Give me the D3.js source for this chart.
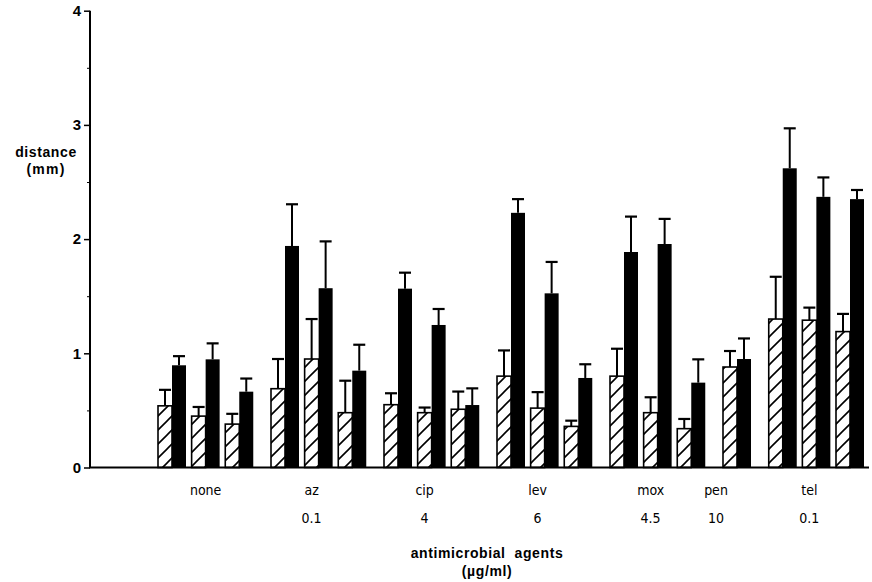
<!DOCTYPE html>
<html>
<head>
<meta charset="utf-8">
<script src="https://cdn.jsdelivr.net/npm/d3@7"></script>
<style>
  html, body { margin: 0; padding: 0; background: #fff; }
  svg { display: block; }
</style>
</head>
<body>
<svg id="chart" width="872" height="582"></svg>
<script>
// ---- data ----
const agents = ["none", "az", "cip", "lev", "mox", "pen", "tel"];
const doses = ["", "0.1", "4", "6", "4.5", "10", "0.1"];
const hatchedValues = [[0.54, 0.45, 0.38], [0.69, 0.95, 0.48], [0.55, 0.48, 0.51], [0.80, 0.52, 0.36], [0.80, 0.48, 0.34], [0.88], [1.30, 1.29, 1.19]];
const hatchedErrors = [[0.14, 0.08, 0.09], [0.26, 0.35, 0.28], [0.10, 0.045, 0.155], [0.225, 0.14, 0.05], [0.24, 0.135, 0.085], [0.14], [0.37, 0.11, 0.155]];
const solidValues = [[0.895, 0.947, 0.664], [1.94, 1.57, 0.848], [1.566, 1.248, 0.547], [2.23, 1.525, 0.784], [1.887, 1.957, 0.743], [0.95], [2.62, 2.37, 2.35]];
const solidErrors = [[0.08, 0.14, 0.115], [0.365, 0.41, 0.227], [0.14, 0.14, 0.146], [0.12, 0.275, 0.12], [0.31, 0.22, 0.204], [0.18], [0.35, 0.17, 0.08]];
const yTicks = [0, 1, 2, 3, 4];
const yMinorTicks = [0.5, 1.5, 2.5, 3.5];

// ---- build pairs ----
const groupGap = 0.36;
const pairs = [];
let idx = 0;
agents.forEach((a, g) => {
  hatchedValues[g].forEach((hv, k) => {
    pairs.push({ g, k, slot: idx + g * groupGap, hv, he: hatchedErrors[g][k], sv: solidValues[g][k], se: solidErrors[g][k] });
    idx++;
  });
});

const svg = d3.select("#chart");
const x0 = 90, baseY = 467.5, topY = 10.7;
const y = d3.scaleLinear().domain([0, 4]).range([baseY, topY]);
const lastSlot = d3.max(pairs, d => d.slot);
const x = d3.scaleLinear().domain([0, lastSlot]).range([158, 836]);
const barW = 14;

// hatch pattern
const defs = svg.append("defs");
const pat = defs.append("pattern").attr("id", "hatch")
  .attr("patternUnits", "userSpaceOnUse").attr("width", 14).attr("height", 14);
pat.append("rect").attr("width", 14).attr("height", 14).attr("fill", "#fff");
pat.append("path").attr("d", "M-2,16 L16,-2 M-2,2 L2,-2 M12,16 L16,12")
  .attr("stroke", "#000").attr("stroke-width", 1.6);

const font = "'Liberation Sans', Arial, Helvetica, sans-serif";

// bars
const gBars = svg.append("g");
pairs.forEach(p => {
  const xs = x(p.slot);
  gBars.append("rect").attr("x", xs).attr("y", y(p.hv)).attr("width", barW).attr("height", y(0) - y(p.hv))
    .attr("fill", "url(#hatch)").attr("stroke", "#000").attr("stroke-width", 1.6);
  gBars.append("rect").attr("x", xs + barW).attr("y", y(p.sv)).attr("width", barW).attr("height", y(0) - y(p.sv))
    .attr("fill", "#000");
});
// error bars
pairs.forEach(p => {
  const xs = x(p.slot);
  [[xs + barW / 2, p.hv, p.he], [xs + barW * 1.5, p.sv, p.se]].forEach(([cx, v, e]) => {
    gBars.append("line").attr("x1", cx).attr("x2", cx).attr("y1", y(v)).attr("y2", y(v + e))
      .attr("stroke", "#000").attr("stroke-width", 2);
    gBars.append("line").attr("x1", cx - 6).attr("x2", cx + 6).attr("y1", y(v + e)).attr("y2", y(v + e))
      .attr("stroke", "#000").attr("stroke-width", 2.2);
  });
});

// y axis
const yAxis = d3.axisLeft(y).tickValues(yTicks).tickSize(6).tickPadding(3).tickFormat(d3.format("d"));
const gy = svg.append("g").attr("transform", `translate(${x0},0)`).call(yAxis);
gy.select(".domain").remove();
gy.selectAll(".tick line").attr("stroke", "#000").attr("stroke-width", 1.5);
gy.selectAll(".tick text").attr("font-family", font).attr("font-size", 15).attr("font-weight", "bold").attr("fill", "#000");
const yMinor = d3.axisLeft(y).tickValues(yMinorTicks).tickSize(3).tickFormat("");
const gym = svg.append("g").attr("transform", `translate(${x0},0)`).call(yMinor);
gym.select(".domain").remove();
gym.selectAll(".tick line").attr("stroke", "#000").attr("stroke-width", 1);

svg.append("line").attr("x1", x0).attr("x2", x0).attr("y1", y(4)).attr("y2", y(0))
  .attr("stroke", "#000").attr("stroke-width", 2);
svg.append("line").attr("x1", x0 - 1).attr("x2", 869).attr("y1", y(0)).attr("y2", y(0))
  .attr("stroke", "#000").attr("stroke-width", 2.2);

// y title
svg.append("text").attr("x", 46).attr("y", 157).attr("text-anchor", "middle")
  .attr("font-family", font).attr("font-size", 14).attr("font-weight", "bold").attr("letter-spacing", 0.6)
  .text("distance");
svg.append("text").attr("x", 46).attr("y", 174).attr("text-anchor", "middle")
  .attr("font-family", font).attr("font-size", 14).attr("font-weight", "bold").attr("letter-spacing", 1.2)
  .text("(mm)");

// category labels at middle pair
const labelFont = "'DejaVu Sans Condensed', 'DejaVu Sans', sans-serif";
agents.forEach((a, g) => {
  const gp = pairs.filter(p => p.g === g);
  const mid = gp[Math.floor(gp.length / 2)];
  const cx = gp.length > 1 ? x(mid.slot) + barW * 0.5 : x(mid.slot) - barW * 0.5;
  svg.append("text").attr("x", g === 0 ? x(mid.slot) + barW : cx).attr("y", 495).attr("text-anchor", "middle")
    .attr("font-family", labelFont).attr("font-size", 14).text(a);
  if (doses[g]) {
    svg.append("text").attr("x", cx).attr("y", 523).attr("text-anchor", "middle")
      .attr("font-family", labelFont).attr("font-size", 14).text(doses[g]);
  }
});

// x title
svg.append("text").attr("x", 487).attr("y", 558).attr("text-anchor", "middle")
  .attr("font-family", font).attr("font-size", 14).attr("font-weight", "bold").attr("letter-spacing", 0.6)
  .attr("xml:space", "preserve").style("white-space", "pre")
  .text("antimicrobial  agents");
svg.append("text").attr("x", 487).attr("y", 576).attr("text-anchor", "middle")
  .attr("font-family", font).attr("font-size", 14).attr("font-weight", "bold").attr("letter-spacing", 0.6)
  .text("(µg/ml)");
</script>
</body>
</html>
